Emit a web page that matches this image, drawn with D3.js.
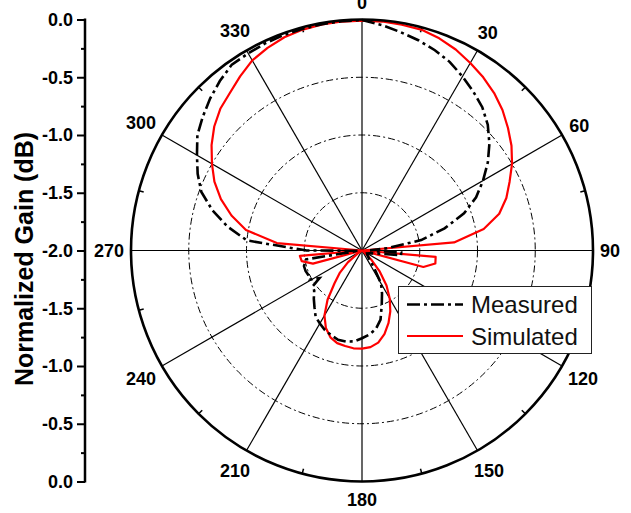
<!DOCTYPE html>
<html>
<head>
<meta charset="utf-8">
<script src="https://cdn.jsdelivr.net/npm/d3@7"></script>
<style>
  html, body { margin: 0; padding: 0; background: #fff; }
  svg { display: block; }
  text { font-family: "Liberation Sans", Arial, Helvetica, sans-serif; }
</style>
</head>
<body>
<svg id="chart" width="631" height="513"></svg>
<script>
// ---- data ----
const angleTicks = [0, 30, 60, 90, 120, 150, 180, 210, 240, 270, 300, 330];
const gainTicks = [-2.0, -1.5, -1.0, -0.5, 0.0];
const gainMinorTicks = [-1.75, -1.25, -0.75, -0.25];
const gridGains = [-1.5, -1.0, -0.5];

const measuredAngles = [0,5,10,15,20,25,30,35,40,45,50,55,60,65,70,75,80,85,89,93,97,102,110,120,130,140,145,150,155,160,165,170,175,180,185,190,195,200,205,210,215,220,225,230,234,237,241,245,250,255,261,266,270,275,280,285,290,295,300,305,310,315,320,325,330,335,340,345,350,355];
const measuredGain = [-0.005,-0.04,-0.08,-0.115,-0.155,-0.20,-0.26,-0.32,-0.38,-0.46,-0.56,-0.67,-0.79,-0.91,-1.06,-1.26,-1.48,-1.78,-1.93,-1.66,-1.66,-1.88,-1.93,-1.95,-1.94,-1.90,-1.82,-1.67,-1.59,-1.50,-1.38,-1.31,-1.27,-1.24,-1.21,-1.20,-1.20,-1.22,-1.24,-1.27,-1.30,-1.36,-1.41,-1.46,-1.47,-1.56,-1.48,-1.49,-1.48,-1.48,-1.51,-1.97,-1.52,-1.00,-0.82,-0.66,-0.52,-0.43,-0.35,-0.26,-0.20,-0.14,-0.085,-0.035,-0.03,-0.02,-0.015,-0.013,-0.01,-0.007];

const simulatedAngles = [0,5,10,15,20,25,30,35,40,45,50,55,60,65,70,75,80,85,90,95,100,105,110,120,130,135,140,145,150,155,160,165,170,175,180,185,190,195,200,205,210,215,220,225,230,235,240,250,255,260,265,270,275,280,285,290,295,300,305,310,315,320,325,330,335,340,345,350,355];
const simulatedGain = [-0.01,-0.01,-0.015,-0.02,-0.045,-0.08,-0.125,-0.17,-0.22,-0.28,-0.35,-0.42,-0.50,-0.59,-0.67,-0.77,-0.93,-1.20,-2.0,-1.36,-1.355,-1.45,-2.0,-2.0,-1.97,-1.88,-1.76,-1.63,-1.52,-1.42,-1.33,-1.25,-1.19,-1.16,-1.15,-1.15,-1.16,-1.17,-1.20,-1.26,-1.35,-1.48,-1.63,-1.73,-1.84,-1.95,-2.0,-2.0,-1.56,-1.47,-1.46,-2.0,-1.26,-0.98,-0.83,-0.70,-0.59,-0.50,-0.41,-0.33,-0.265,-0.22,-0.16,-0.10,-0.065,-0.035,-0.02,-0.012,-0.01];

const seriesNames = ["Measured", "Simulated"];

// ---- layout ----
const cx = 362, cy = 250.5, R = 231;
const axisX = 85;
const svg = d3.select("#chart");

const rScale = d3.scaleLinear().domain([-2, 0]).range([0, R]);
const toRad = d => d * Math.PI / 180;

const g = svg.append("g").attr("transform", `translate(${cx},${cy})`);

// grid circles (dash-dot)
g.selectAll("circle.grid").data(gridGains).enter().append("circle")
  .attr("class", "grid")
  .attr("r", d => rScale(d))
  .attr("fill", "none").attr("stroke", "#000").attr("stroke-width", 1)
  .attr("stroke-dasharray", "7,3,2,3");

// spokes
g.selectAll("line.spoke").data(angleTicks).enter().append("line")
  .attr("x1", 0).attr("y1", 0)
  .attr("x2", d => R * Math.sin(toRad(d)))
  .attr("y2", d => -R * Math.cos(toRad(d)))
  .attr("stroke", "#000").attr("stroke-width", 1.2);

// minor ticks on the outer circle
const minorAngles = angleTicks.map(a => a + 15);
g.selectAll("line.minor").data(minorAngles).enter().append("line")
  .attr("x1", d => (R - 5) * Math.sin(toRad(d)))
  .attr("y1", d => -(R - 5) * Math.cos(toRad(d)))
  .attr("x2", d => R * Math.sin(toRad(d)))
  .attr("y2", d => -R * Math.cos(toRad(d)))
  .attr("stroke", "#000").attr("stroke-width", 1.5);

// curves
const radial = d3.lineRadial()
  .angle(d => toRad(d[0]))
  .radius(d => rScale(Math.max(-2, d[1])))
  .curve(d3.curveLinearClosed);

const measured = measuredAngles.map((a, i) => [a, measuredGain[i]]);
const simulated = simulatedAngles.map((a, i) => [a, simulatedGain[i]]);

g.append("path").attr("d", radial(simulated))
  .attr("fill", "none").attr("stroke", "#ff0000").attr("stroke-width", 2.2)
  .attr("stroke-linejoin", "round");

g.append("path").attr("d", radial(measured))
  .attr("fill", "none").attr("stroke", "#000").attr("stroke-width", 2.6)
  .attr("stroke-dasharray", "13,4,3,4");

// outer circle
g.append("circle").attr("r", R).attr("fill", "none")
  .attr("stroke", "#000").attr("stroke-width", 2.6);

// angle labels
const lab = g.selectAll("text.ang").data(angleTicks).enter().append("text")
  .attr("class", "ang")
  .attr("font-size", 18).attr("font-weight", "bold")
  .attr("text-anchor", "middle")
  .text(d => d);
lab.each(function(d) {
  const w = this.getComputedTextLength();
  const h = 13;
  const s = Math.sin(toRad(d)), c = Math.cos(toRad(d));
  const gap = 7 + 4 * c * c;
  const ext = Math.abs(s) * w / 2 + Math.abs(c) * h / 2;
  const rr = R + gap + ext;
  d3.select(this).attr("x", rr * s).attr("y", -rr * c + h / 2);
});

// y axis (two halves mirrored around the centre)
const yTop = d3.scaleLinear().domain([-2, 0]).range([cy, cy - R]);
const yBot = d3.scaleLinear().domain([-2, 0]).range([cy, cy + R]);
const fmt = d => d.toFixed(1);

function drawAxis(scale, values) {
  const ax = svg.append("g").attr("transform", `translate(${axisX},0)`)
    .call(d3.axisLeft(scale).tickValues(values).tickFormat(fmt).tickSize(8).tickPadding(4));
  ax.select(".domain").remove();
  ax.selectAll(".tick line").attr("stroke", "#000").attr("stroke-width", 2);
  ax.selectAll(".tick text").attr("font-size", 18).attr("font-weight", "bold")
    .attr("fill", "#000").attr("font-family", "Liberation Sans, Arial, sans-serif");
  const mn = svg.append("g").attr("transform", `translate(${axisX},0)`)
    .call(d3.axisLeft(scale).tickValues(gainMinorTicks).tickFormat("").tickSize(4));
  mn.select(".domain").remove();
  mn.selectAll(".tick line").attr("stroke", "#000").attr("stroke-width", 2);
}
drawAxis(yTop, gainTicks);
drawAxis(yBot, gainTicks.filter(v => v !== -2));

svg.append("line").attr("x1", axisX).attr("x2", axisX)
  .attr("y1", yTop(0) - 1).attr("y2", yBot(0) + 1)
  .attr("stroke", "#000").attr("stroke-width", 2.5);

// y title
svg.append("text")
  .attr("transform", "translate(33,259) rotate(-90)")
  .attr("text-anchor", "middle")
  .attr("font-size", 25).attr("font-weight", "bold")
  .text("Normalized Gain (dB)");

// legend
const lg = svg.append("g");
lg.append("rect").attr("x", 398.5).attr("y", 286.5).attr("width", 193).attr("height", 67)
  .attr("fill", "#fff").attr("stroke", "#222").attr("stroke-width", 1);
const legendY = [304.5, 336];
lg.append("line").attr("x1", 407).attr("x2", 463).attr("y1", legendY[0]).attr("y2", legendY[0])
  .attr("stroke", "#000").attr("stroke-width", 2.6).attr("stroke-dasharray", "13,4,3,4");
lg.append("line").attr("x1", 407).attr("x2", 463).attr("y1", legendY[1]).attr("y2", legendY[1])
  .attr("stroke", "#ff0000").attr("stroke-width", 2.2);
lg.selectAll("text").data(seriesNames).enter().append("text")
  .attr("x", 471).attr("y", (d, i) => legendY[i] + 8.5)
  .attr("font-size", 24).attr("fill", "#111")
  .text(d => d);
</script>
</body>
</html>
